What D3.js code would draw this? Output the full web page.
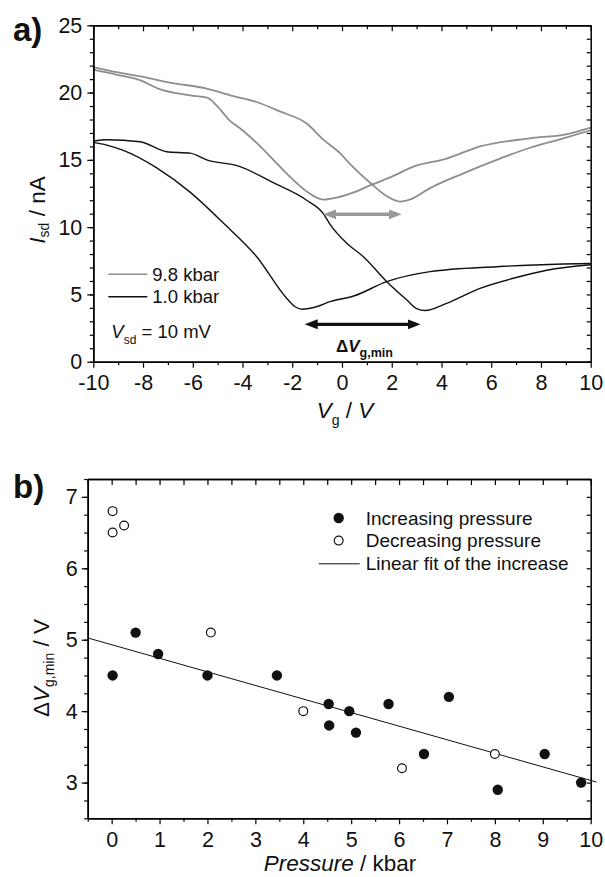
<!DOCTYPE html>
<html>
<head>
<meta charset="utf-8">
<script src="https://cdn.jsdelivr.net/npm/d3@7"></script>
<style>
  body { margin: 0; background: #fff; }
  text { font-family: "Liberation Sans", Arial, sans-serif; }
</style>
</head>
<body>
<div id="chart"></div>
<script>
// ---- panel a: Isd vs Vg sweeps ----
// 9.8 kbar, sweep with minimum near -0.75 V
const vgGrayA  = [-10, -9, -8.1, -7.4, -6.1, -5.4, -5.0, -4.5, -4.1, -3.4, -2.76, -2.1, -1.42, -0.75, -0.48, 0.5, 1.13, 2.0, 2.87, 4.21, 5.55, 7.56, 9.0, 10];
const isdGrayA = [21.7, 21.3, 20.9, 20.3, 19.8, 19.6, 18.95, 17.9, 17.35, 16.2, 15.0, 13.75, 12.65, 12.05, 12.1, 12.6, 13.1, 13.75, 14.5, 15.1, 16.0, 16.6, 16.9, 17.4];
// 9.8 kbar, sweep with minimum near 2.3 V
const vgGrayB  = [-10, -9, -8.1, -6.8, -5.44, -4.5, -3.43, -2.5, -1.42, -0.75, -0.08, 0.32, 1.13, 1.8, 2.33, 2.8, 3.54, 4.88, 6.22, 7.56, 8.9, 10];
const isdGrayB = [21.9, 21.5, 21.2, 20.7, 20.3, 19.8, 19.3, 18.6, 17.7, 16.5, 15.5, 14.7, 13.3, 12.3, 11.9, 12.1, 12.9, 14.0, 15.0, 15.9, 16.6, 17.2];
// 1.0 kbar, sweep with minimum near -1.6 V
const vgBlackA  = [-10, -9.46, -8.79, -7.45, -6.11, -4.77, -3.43, -2.22, -1.9, -1.6, -1.0, -0.48, 0.5, 1.8, 3.54, 6.22, 8.9, 10];
const isdBlackA = [16.3, 16.1, 15.7, 14.4, 12.6, 10.3, 7.8, 4.7, 4.1, 3.9, 4.1, 4.46, 4.9, 5.95, 6.69, 7.06, 7.26, 7.3];
// 1.0 kbar, sweep with minimum near 3.3 V
const vgBlackB  = [-10, -9.46, -8.12, -7.05, -6.11, -5.44, -4.1, -2.76, -1.42, -0.75, -0.48, 0.19, 0.86, 1.8, 2.6, 3.0, 3.34, 4.21, 5.55, 6.89, 8.23, 10];
const isdBlackB = [16.4, 16.5, 16.35, 15.6, 15.5, 15.0, 14.5, 13.3, 12.0, 11.0, 10.2, 8.8, 7.8, 5.95, 4.6, 3.95, 3.8, 4.34, 5.45, 6.2, 6.8, 7.2];

const grayArrowVg = [-0.75, 2.4];   const grayArrowIsd = 10.95;
const blackArrowVg = [-1.5, 3.16];  const blackArrowIsd = 2.78;

const xTicksA = [-10, -8, -6, -4, -2, 0, 2, 4, 6, 8, 10];
const yTicksA = [0, 5, 10, 15, 20, 25];

// ---- panel b: dVg,min vs pressure ----
const incPressure = [0.02, 0.5, 0.97, 2.0, 3.45, 4.53, 4.54, 4.96, 5.1, 5.78, 6.52, 7.04, 8.06, 9.04, 9.8];
const incDeltaV   = [4.5, 5.1, 4.8, 4.5, 4.5, 4.1, 3.8, 4.0, 3.7, 4.1, 3.4, 4.2, 2.9, 3.4, 3.0];
const decPressure = [0.02, 0.02, 0.26, 2.07, 4.0, 6.06, 8.0];
const decDeltaV   = [6.8, 6.5, 6.6, 5.1, 4.0, 3.2, 3.4];
const fitIntercept = 4.93, fitSlope = -0.19, fitRange = [-0.5, 10.12];

const xTicksB = [0, 1, 2, 3, 4, 5, 6, 7, 8, 9, 10];
const yTicksB = [3, 4, 5, 6, 7];

const legendA = ['9.8 kbar', '1.0 kbar'];
const legendB = ['Increasing pressure', 'Decreasing pressure', 'Linear fit of the increase'];

const grayCol = '#8e8e8e', blackCol = '#111';
const tickFont = 21.5;

const svg = d3.select('#chart').append('svg')
    .attr('width', 605)
    .attr('height', 877);

const defs = svg.append('defs');
[['headGray', '#999'], ['headBlack', '#111']].forEach(([id, c]) => {
  defs.append('marker')
      .attr('id', id)
      .attr('markerUnits', 'userSpaceOnUse')
      .attr('markerWidth', 14).attr('markerHeight', 12)
      .attr('refX', 3).attr('refY', 6)
      .attr('orient', 'auto-start-reverse')
    .append('path')
      .attr('d', 'M0,1 L13,6 L0,11 Z')
      .attr('fill', c);
});

function range(a, b, s) {
  const out = [];
  for (let v = a; v <= b + 1e-9; v += s) out.push(+v.toFixed(4));
  return out;
}

// frame with ticks on four sides
function drawFrame(box, x, y, o) {
  const g = svg.append('g');
  const styleAxis = sel => {
    sel.selectAll('path.domain').attr('stroke', '#000').attr('stroke-width', 1.5);
    sel.selectAll('line').attr('stroke', '#000').attr('stroke-width', 1.2);
    sel.selectAll('text').attr('font-size', tickFont).attr('fill', '#111')
        .style('font-family', '"Liberation Sans", Arial, sans-serif');
  };
  // bottom, outward
  g.append('g').attr('transform', `translate(0,${box.bottom})`)
      .call(d3.axisBottom(x).tickValues(o.xMinor).tickSize(3.5).tickSizeOuter(0).tickFormat(''))
      .call(styleAxis);
  g.append('g').attr('transform', `translate(0,${box.bottom})`)
      .call(d3.axisBottom(x).tickValues(o.xMajor).tickSize(6).tickSizeOuter(0).tickPadding(7).tickFormat(d3.format('d')))
      .call(styleAxis);
  // left, outward
  g.append('g').attr('transform', `translate(${box.left},0)`)
      .call(d3.axisLeft(y).tickValues(o.yMinor).tickSize(3.5).tickSizeOuter(0).tickFormat(''))
      .call(styleAxis);
  g.append('g').attr('transform', `translate(${box.left},0)`)
      .call(d3.axisLeft(y).tickValues(o.yMajor).tickSize(6).tickSizeOuter(0).tickPadding(o.yPad).tickFormat(d3.format('d')))
      .call(styleAxis);
  // top, inward
  g.append('g').attr('transform', `translate(0,${box.top})`)
      .call(d3.axisBottom(x).tickValues(o.topMinor).tickSize(4).tickSizeOuter(0).tickFormat(''))
      .call(styleAxis);
  g.append('g').attr('transform', `translate(0,${box.top})`)
      .call(d3.axisBottom(x).tickValues(o.topMajor).tickSize(6).tickSizeOuter(0).tickFormat(''))
      .call(styleAxis);
  // right, inward
  g.append('g').attr('transform', `translate(${box.right},0)`)
      .call(d3.axisLeft(y).tickValues(o.rightTicks).tickSize(4).tickSizeOuter(0).tickFormat(''))
      .call(styleAxis);
  g.selectAll('text').each(function () {
    // the figure uses a plain hyphen for negative numbers
    const t = d3.select(this).text();
    d3.select(this).text(t.replace('\u2212', '-'));
  });
}

// ================= panel a =================
const boxA = {left: 93.3, right: 590.7, top: 25.3, bottom: 361.7};
const xA = d3.scaleLinear().domain([-10, 10]).range([boxA.left, boxA.right]);
const yA = d3.scaleLinear().domain([0, 25]).range([boxA.bottom, boxA.top]);

const lineA = d3.line().curve(d3.curveMonotoneX).x(d => xA(d[0])).y(d => yA(d[1]));
const curvesA = [
  [vgGrayA, isdGrayA, grayCol, 1.8],
  [vgGrayB, isdGrayB, grayCol, 1.8],
  [vgBlackA, isdBlackA, blackCol, 1.4],
  [vgBlackB, isdBlackB, blackCol, 1.4]
];
svg.append('g').selectAll('path')
  .data(curvesA)
  .join('path')
    .attr('d', c => lineA(d3.zip(c[0], c[1])))
    .attr('fill', 'none')
    .attr('stroke', c => c[2])
    .attr('stroke-width', c => c[3])
    .attr('stroke-linejoin', 'round');

drawFrame(boxA, xA, yA, {
  xMajor: xTicksA, xMinor: range(-9, 9, 2),
  yMajor: yTicksA, yMinor: range(0, 25, 1), yPad: 5,
  topMajor: range(-10, 10, 2), topMinor: range(-9, 9, 2),
  rightTicks: range(0, 25, 1)
});

// double arrows
function dblArrow(vg, isd, col, w, head) {
  svg.append('line')
      .attr('x1', xA(vg[0]) + 10).attr('x2', xA(vg[1]) - 10)
      .attr('y1', yA(isd)).attr('y2', yA(isd))
      .attr('stroke', col).attr('stroke-width', w)
      .attr('marker-start', `url(#${head})`)
      .attr('marker-end', `url(#${head})`);
}
dblArrow(grayArrowVg, grayArrowIsd, '#999', 3.5, 'headGray');
dblArrow(blackArrowVg, blackArrowIsd, '#111', 3.2, 'headBlack');

const dv = svg.append('text')
    .attr('x', xA(-0.24)).attr('y', yA(0.74))
    .attr('font-weight', 'bold').attr('font-size', 17).attr('fill', '#111');
dv.append('tspan').text('\u0394');
dv.append('tspan').attr('font-style', 'italic').text('V');
dv.append('tspan').attr('font-size', 12.5).attr('dy', 5).text('g,min');

// legend a
const legA = svg.append('g');
legA.selectAll('line')
  .data(legendA)
  .join('line')
    .attr('x1', boxA.left + 15).attr('x2', boxA.left + 54)
    .attr('y1', (d, i) => 274.3 + i * 22.4).attr('y2', (d, i) => 274.3 + i * 22.4)
    .attr('stroke', (d, i) => i === 0 ? grayCol : blackCol)
    .attr('stroke-width', 1.5);
legA.selectAll('text')
  .data(legendA)
  .join('text')
    .attr('x', boxA.left + 59).attr('y', (d, i) => 281 + i * 22.4)
    .attr('font-size', 18.5).attr('fill', '#111')
    .text(d => d);

const vsd = svg.append('text').attr('x', boxA.left + 18).attr('y', 338)
    .attr('font-size', 18.5).attr('fill', '#111');
vsd.append('tspan').attr('font-style', 'italic').text('V');
vsd.append('tspan').attr('font-size', 12).attr('dy', 6).text('sd');
vsd.append('tspan').attr('dy', -6).text(' = 10 mV');

// axis titles a
const yTitleA = svg.append('text')
    .attr('transform', 'translate(45,210) rotate(-90)')
    .attr('text-anchor', 'middle').attr('font-size', 22.5).attr('fill', '#111');
yTitleA.append('tspan').attr('font-style', 'italic').text('I');
yTitleA.append('tspan').attr('font-size', 14).attr('dy', 4).text('sd');
yTitleA.append('tspan').attr('dy', -4).text(' / nA');

const xTitleA = svg.append('text')
    .attr('x', 345).attr('y', 418)
    .attr('text-anchor', 'middle').attr('font-size', 22.5).attr('fill', '#111');
xTitleA.append('tspan').attr('font-style', 'italic').text('V');
xTitleA.append('tspan').attr('font-size', 14).attr('dy', 7).text('g');
xTitleA.append('tspan').attr('dy', -7).text('  /  ');
xTitleA.append('tspan').attr('font-style', 'italic').text('V');

svg.append('text').attr('x', 13).attr('y', 41)
    .attr('font-size', 33).attr('font-weight', 'bold').attr('fill', '#111')
    .text('a)');

// ================= panel b =================
const boxB = {left: 87.7, right: 590.7, top: 479, bottom: 818.3};
const xB = d3.scaleLinear().domain([-0.5, 10]).range([boxB.left, boxB.right]);
const yB = d3.scaleLinear().domain([2.5, 7.25]).range([boxB.bottom, boxB.top]);

drawFrame(boxB, xB, yB, {
  xMajor: xTicksB, xMinor: range(-0.5, 9.5, 1),
  yMajor: yTicksB, yMinor: range(2.5, 7.25, 0.25), yPad: 4,
  topMajor: range(-0.5, 10, 0.5), topMinor: [],
  rightTicks: range(2.5, 7.25, 0.25)
});

svg.append('line')
    .attr('x1', xB(fitRange[0])).attr('y1', yB(fitIntercept + fitSlope * fitRange[0]))
    .attr('x2', xB(fitRange[1])).attr('y2', yB(fitIntercept + fitSlope * fitRange[1]))
    .attr('stroke', '#111').attr('stroke-width', 1);

svg.append('g').selectAll('circle')
  .data(d3.zip(incPressure, incDeltaV))
  .join('circle')
    .attr('cx', d => xB(d[0])).attr('cy', d => yB(d[1]))
    .attr('r', 5.2).attr('fill', '#111');

svg.append('g').selectAll('circle')
  .data(d3.zip(decPressure, decDeltaV))
  .join('circle')
    .attr('cx', d => xB(d[0])).attr('cy', d => yB(d[1]))
    .attr('r', 4.4).attr('fill', '#fff')
    .attr('stroke', '#111').attr('stroke-width', 1.2);

// legend b
const legB = svg.append('g');
const rowsB = [boxB.top + 39, boxB.top + 61.6, boxB.top + 84.8];
legB.append('circle').attr('cx', boxB.left + 251).attr('cy', rowsB[0]).attr('r', 5.2).attr('fill', '#111');
legB.append('circle').attr('cx', boxB.left + 251).attr('cy', rowsB[1]).attr('r', 4.4)
    .attr('fill', '#fff').attr('stroke', '#111').attr('stroke-width', 1.2);
legB.append('line').attr('x1', boxB.left + 231).attr('x2', boxB.left + 272)
    .attr('y1', rowsB[2]).attr('y2', rowsB[2]).attr('stroke', '#111').attr('stroke-width', 1);
legB.selectAll('text')
  .data(legendB)
  .join('text')
    .attr('x', boxB.left + 278).attr('y', (d, i) => rowsB[i] + 6.5)
    .attr('font-size', 19).attr('fill', '#111')
    .text(d => d);

// axis titles b
const yTitleB = svg.append('text')
    .attr('transform', 'translate(49,668) rotate(-90)')
    .attr('text-anchor', 'middle').attr('font-size', 22.5).attr('fill', '#111');
yTitleB.append('tspan').text('\u0394');
yTitleB.append('tspan').attr('font-style', 'italic').text('V');
yTitleB.append('tspan').attr('font-size', 14).attr('dy', 5).text('g,min');
yTitleB.append('tspan').attr('dy', -5).text(' / V');

const xTitleB = svg.append('text')
    .attr('x', 340).attr('y', 871)
    .attr('text-anchor', 'middle').attr('font-size', 22.5).attr('fill', '#111');
xTitleB.append('tspan').attr('font-style', 'italic').text('Pressure');
xTitleB.append('tspan').text(' / kbar');

svg.append('text').attr('x', 13).attr('y', 498)
    .attr('font-size', 33).attr('font-weight', 'bold').attr('fill', '#111')
    .text('b)');
</script>
</body>
</html>
